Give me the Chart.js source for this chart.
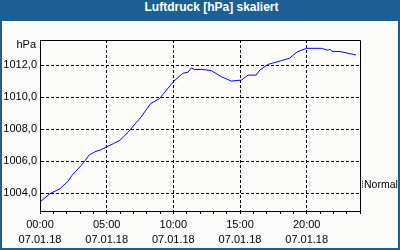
<!DOCTYPE html>
<html><head><meta charset="utf-8">
<script src="https://cdn.jsdelivr.net/npm/chart.js@4"></script>
<style>
html,body{margin:0;padding:0;}
#frame{position:relative;width:400px;height:250px;background:#1c5f95;overflow:hidden;}
#title{position:absolute;left:0;top:0;width:400px;height:21px;line-height:20px;text-align:center;color:#fff;font:bold 12px "Liberation Sans",Arial,sans-serif;padding-left:23px;box-sizing:border-box;}
#wrap{position:absolute;left:2px;top:21px;width:396px;height:227px;background:#fbfcfa;}
</style></head>
<body>
<div id="frame"><div id="title">Luftdruck [hPa] skaliert</div><div id="wrap"><canvas id="c" width="396" height="227"></canvas></div></div>
<script>
const hours = [0.0,0.75,1.5,2.1,2.4,3.1,3.4,3.7,4.2,4.5,5.0,5.5,6.0,6.6,7.2,7.5,8.3,8.98,9.5,10.0,10.7,11.1,11.35,11.6,12.1,12.85,13.6,14.35,15.1,15.6,16.2,16.5,17.1,18.1,18.7,19.3,20.0,21.1,21.6,21.75,21.9,22.6,23.1,23.7];
const pressure = [1003.46,1003.98,1004.29,1004.75,1005.12,1005.75,1006.06,1006.4,1006.62,1006.69,1006.9,1007.1,1007.31,1007.8,1008.4,1008.67,1009.6,1009.92,1010.45,1010.96,1011.48,1011.55,1011.82,1011.72,1011.73,1011.65,1011.27,1011.0,1011.06,1011.37,1011.37,1011.69,1012.04,1012.27,1012.42,1012.83,1013.04,1013.04,1012.92,1012.98,1012.86,1012.83,1012.73,1012.63];
const timeLabels = {0:"00:00",5:"05:00",10:"10:00",15:"15:00",20:"20:00"};
const dateLabel = "07.01.18";
const yUnit = "hPa";
const seriesName = "Normal";

const FONT = '"Liberation Sans", Arial, sans-serif';

const extras = {
  id: 'extras',
  afterDraw(chart) {
    const {ctx, chartArea: a, scales} = chart;
    ctx.save();
    ctx.strokeStyle = '#000';
    ctx.lineWidth = 1;
    ctx.beginPath();
    ctx.moveTo(a.left, a.top + 0.5);
    ctx.lineTo(a.right + 0.5, a.top + 0.5);
    ctx.lineTo(a.right + 0.5, a.bottom);
    ctx.stroke();
    ctx.fillStyle = '#000';
    ctx.font = '11px ' + FONT;
    ctx.textAlign = 'right';
    ctx.textBaseline = 'middle';
    ctx.fillText(yUnit, a.left - 4, a.top + 5);
    // series label on the right
    const yN = scales.y.getPixelForValue(1004.6);
    ctx.setLineDash([1, 1]);
    ctx.beginPath();
    ctx.moveTo(a.right + 2.5, yN - 3);
    ctx.lineTo(a.right + 2.5, yN + 4);
    ctx.stroke();
    ctx.setLineDash([]);
    ctx.font = '10.5px ' + FONT;
    ctx.textAlign = 'left';
    ctx.fillText(seriesName, a.right + 4, yN + 1);
    ctx.restore();
  }
};

new Chart(document.getElementById('c'), {
  type: 'line',
  data: {
    datasets: [{
      data: hours.map((h, i) => ({x: h, y: pressure[i]})),
      borderColor: '#0000ff',
      borderWidth: 1,
      pointRadius: 0,
      tension: 0,
      fill: false
    }]
  },
  options: {
    responsive: false,
    animation: false,
    devicePixelRatio: 1,
    layout: {padding: {left: 0, right: 38, top: 19, bottom: 0}},
    plugins: {legend: {display: false}, tooltip: {enabled: false}, title: {display: false}},
    scales: {
      x: {
        type: 'linear',
        min: 0, max: 24,
        afterFit(s) { s.height = 37; },
        afterBuildTicks(s) { s.ticks = []; for (let h = 0; h <= 24; h++) s.ticks.push({value: h}); },
        ticks: {
          autoSkip: false, maxRotation: 0, padding: 4, color: '#000',
          font: {family: FONT, size: 11, lineHeight: 1.35},
          callback: (v) => timeLabels[v] !== undefined ? [timeLabels[v], dateLabel] : ''
        },
        grid: {
          color: (c) => (c.tick && c.tick.value % 5 === 0 && c.tick.value > 0 && c.tick.value < 24) ? '#000' : 'rgba(0,0,0,0)',
          tickColor: '#000',
          tickLength: 3,
          lineWidth: 1,
          drawOnChartArea: true
        },
        border: {display: true, color: '#000', width: 1, dash: [3, 2]}
      },
      y: {
        type: 'linear',
        min: 1002.9, max: 1013.56,
        afterFit(s) { s.width = 38; },
        ticks: {
          stepSize: 2, includeBounds: false, padding: 3, color: '#000',
          font: {family: FONT, size: 11},
          callback: (v) => v.toFixed(1).replace('.', ',')
        },
        grid: {color: '#000', drawTicks: false, lineWidth: 1},
        border: {display: true, color: '#000', width: 1, dash: [3, 2]}
      }
    }
  },
  plugins: [extras]
});
</script>
</body></html>
